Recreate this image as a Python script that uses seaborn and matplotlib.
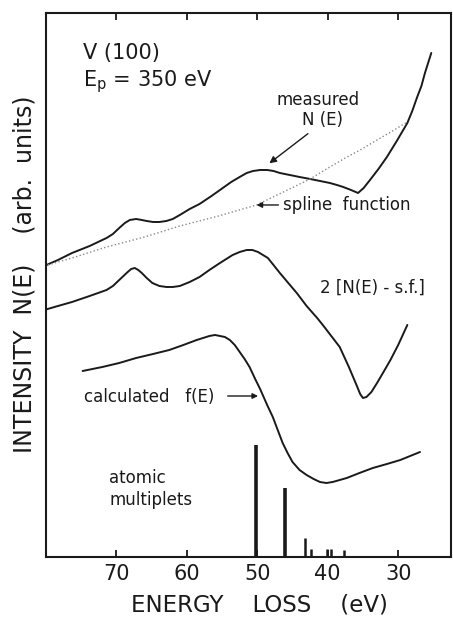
import matplotlib
matplotlib.use('Agg')
import matplotlib.pyplot as plt
import pandas as pd
import seaborn as sns

sns.set_theme(style='white')
plt.rcParams['font.family'] = ['DejaVu Sans']

# energy loss (eV) and intensity (arb. units)
measured_e = [80.25, 78.3, 76.3, 73.8, 71.4, 70.5, 69.6, 68.8, 68.1, 67.2, 66.4, 65.7, 64.8, 63.9,
              62.9, 62.0, 61.0, 59.6, 58.2, 56.5, 54.9, 53.7, 52.5, 51.5, 50.6, 49.6, 48.6, 47.7,
              46.8, 45.4, 44.0, 42.5, 41.1, 39.7, 38.7, 37.8, 36.7, 35.7, 34.9, 34.0, 32.8, 31.6,
              30.2, 28.7, 28.0, 27.3, 26.7, 26.2, 25.3]
measured_v = [291, 297, 304, 311, 319, 323, 329, 334, 337, 338, 337, 336, 335, 335,
              336, 338, 342, 348, 353, 361, 369, 375, 380, 384, 386, 387, 387, 386,
              384, 382, 380, 378, 376, 374, 372, 370, 367, 364, 369, 377, 388, 400,
              416, 434, 446, 460, 471, 484, 504]

spline_e = [80.25, 76.3, 71.4, 66.0, 61.0, 55.5, 50.1, 46.0, 42.5, 39.7, 37.5, 35.4, 33.0, 30.8, 28.7]
spline_v = [291, 299, 310, 320, 331, 341, 352, 366, 378, 390, 399, 407, 417, 426, 435]

diff_e = [80.25, 78.3, 76.3, 73.8, 71.4, 70.5, 69.6, 69.0, 68.4, 67.9, 67.4, 66.9, 66.4, 65.7,
          64.9, 63.9, 62.9, 62.0, 61.0, 59.6, 58.2, 56.8, 55.3, 54.4, 53.5, 52.5, 51.5, 50.7,
          49.9, 49.2, 48.5, 47.7, 46.8, 45.6, 44.4, 43.0, 41.5, 40.7, 39.5, 38.3, 37.0, 35.8,
          35.4, 35.0, 34.5, 33.8, 33.0, 32.0, 31.1, 30.0, 28.7]
diff_v = [247, 251, 255, 261, 267, 271, 277, 281, 285, 288, 289, 287, 284, 279,
          274, 271, 270, 270, 271, 275, 280, 287, 294, 298, 302, 305, 307, 307,
          305, 302, 299, 292, 284, 274, 264, 251, 239, 232, 221, 210, 190, 170,
          163, 159, 160, 165, 174, 186, 197, 212, 232]

calc_e = [74.8, 72.0, 69.6, 67.2, 64.8, 62.5, 60.5, 58.6, 57.7, 56.8, 56.0, 55.3, 54.6, 53.9,
          53.2, 52.5, 51.8, 51.1, 50.3, 49.6, 48.6, 47.8, 47.1, 46.4, 45.7, 45.0, 44.0, 43.0,
          42.0, 41.1, 40.2, 39.3, 38.3, 37.3, 35.5, 33.6, 31.6, 29.7, 28.3, 26.9]
calc_v = [186, 190, 194, 199, 203, 207, 212, 217, 219, 221, 222, 221, 220, 217,
          212, 205, 198, 190, 178, 168, 152, 140, 127, 114, 104, 95, 87, 82,
          78, 75, 74, 75, 77, 79, 84, 89, 93, 97, 101, 105]

multiplet_e = [50.2, 46.1, 43.2, 42.4, 40.1, 39.5, 37.7]
multiplet_h = [112, 69, 19, 8, 8, 8, 7]

xticks = [70, 60, 50, 40, 30]

curves = pd.concat([
    pd.DataFrame({'E': measured_e, 'I': measured_v, 'curve': 'measured'}),
    pd.DataFrame({'E': diff_e, 'I': diff_v, 'curve': 'difference'}),
    pd.DataFrame({'E': calc_e, 'I': calc_v, 'curve': 'calculated'}),
])
spline = pd.DataFrame({'E': spline_e, 'I': spline_v})

fig = plt.figure(figsize=(4.53, 6.18), dpi=100)
ax = fig.add_axes([0.1015, 0.0987, 0.8941, 0.8803])

ink = '#1a1a1a'
for name, grp in curves.groupby('curve'):
    sns.lineplot(data=grp, x='E', y='I', sort=False, color=ink, lw=1.4, ax=ax, estimator=None)
sns.lineplot(data=spline, x='E', y='I', sort=False, color='#8a8a8a', lw=1.0, ls=':', ax=ax,
             estimator=None)

ax.vlines(multiplet_e[:2], 0, multiplet_h[:2], color=ink, lw=2.6)
ax.vlines(multiplet_e[2:], 0, multiplet_h[2:], color=ink, lw=1.8)

ax.set_xlim(80, 22.5)
ax.set_ylim(0, 544)
ax.set_xticks(xticks)
ax.set_xticklabels([str(t) for t in xticks])
ax.set_yticks([])
ax.tick_params(axis='x', direction='in', length=5, width=1.3, top=True, bottom=True,
               labelsize=15, colors=ink, pad=5)
for s in ax.spines.values():
    s.set_color(ink)
    s.set_linewidth(1.5)

ax.set_xlabel('ENERGY    LOSS    (eV)', fontsize=16.5, color=ink, va='center')
ax.xaxis.set_label_coords(0.527, -0.088)
ax.set_ylabel('INTENSITY  N(E)    (arb.  units)', fontsize=17, color=ink, va='center')
ax.yaxis.set_label_coords(-0.054, 0.52)

txt = dict(color=ink, fontsize=15)
ax.text(74.8, 504, 'V (100)', va='center', ha='left', **txt)
ax.text(74.8, 475, r'E$_\mathrm{p}$ = 350 eV', va='center', ha='left', **txt)

small = dict(color=ink, fontsize=12)
ax.text(41.4, 457, 'measured', ha='center', va='center', **small)
ax.text(40.8, 437, 'N (E)', ha='center', va='center', **small)
ax.annotate('', xy=(48.6, 392), xytext=(42.5, 425),
            arrowprops=dict(arrowstyle='-|>', color=ink, lw=1.0, mutation_scale=10))

ax.text(46.4, 352, 'spline  function', ha='left', va='center', **small)
ax.annotate('', xy=(50.5, 352), xytext=(46.6, 352),
            arrowprops=dict(arrowstyle='-|>', color=ink, lw=1.0, mutation_scale=8))

ax.text(41.1, 269, '2 [N(E) - s.f.]', ha='left', va='center', **small)

ax.text(74.6, 160, 'calculated   f(E)', ha='left', va='center', **small)
ax.annotate('', xy=(49.5, 161), xytext=(54.6, 161),
            arrowprops=dict(arrowstyle='-|>', color=ink, lw=1.0, mutation_scale=8))

ax.text(71.0, 79, 'atomic', ha='left', va='center', **small)
ax.text(71.0, 57, 'multiplets', ha='left', va='center', **small)

fig.savefig('out.png', dpi=100)
